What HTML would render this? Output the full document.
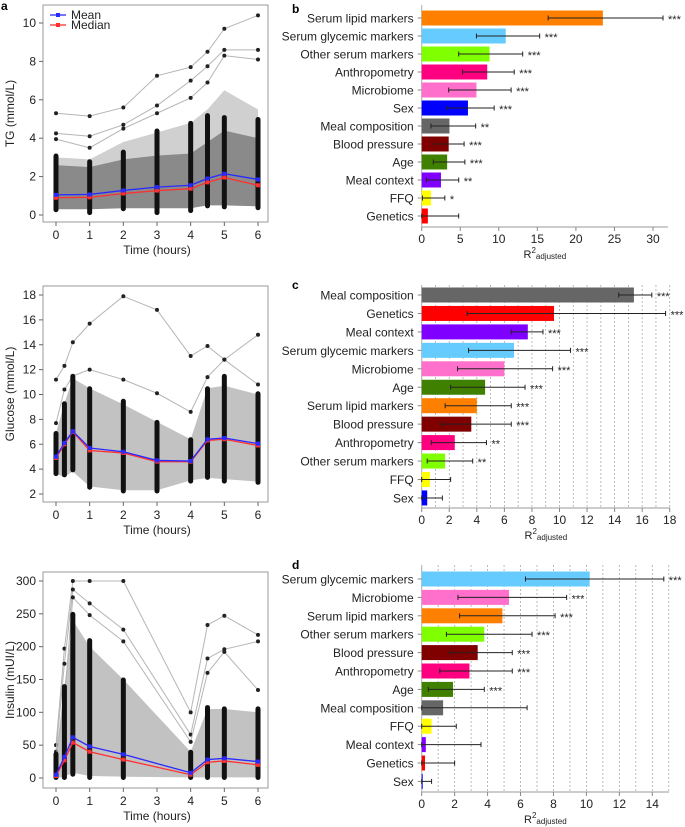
<!DOCTYPE html>
<html><head><meta charset="utf-8">
<style>
html,body{margin:0;padding:0;background:#fff;}
svg{display:block;font-family:"Liberation Sans",Arial,sans-serif;}
</style></head>
<body>
<svg id="fig" width="685" height="827" viewBox="0 0 685 827" xmlns="http://www.w3.org/2000/svg"></svg>
<script>
// ---------- Panel a data (TG) ----------
const tgTimes = [0,1,2,3,4,4.5,5,6];
const tgMean = [1.05,1.07,1.28,1.45,1.55,1.9,2.15,1.85];
const tgMedian = [0.9,0.92,1.12,1.27,1.37,1.7,1.95,1.55];
const tgBandLo = [0.3,0.3,0.35,0.35,0.35,0.5,0.5,0.45];
const tgBandHi = [2.6,2.5,2.9,3.1,3.2,3.8,4.4,4.0];
const tgLightHi = [3.0,2.9,3.8,4.3,4.8,5.5,6.5,5.5];
const tgDotLo = [0.25,0.1,0.3,0.1,0.2,0.45,0.4,0.35];
const tgDotHi = [3.1,2.8,3.3,4.4,4.8,5.2,5.1,5.0];
const tgOutA = [5.3,5.15,5.6,7.25,7.7,8.5,9.7,10.4];
const tgOutB = [4.25,4.1,4.7,5.7,7.0,7.75,8.6,8.6];
const tgOutC = [3.95,3.5,4.5,5.3,6.1,6.9,8.3,8.1];
// ---------- Glucose data ----------
const gluTimes = [0,0.25,0.5,1,2,3,4,4.5,5,6];
const gluMean = [5.0,6.1,7.05,5.7,5.4,4.7,4.65,6.4,6.5,6.05];
const gluMedian = [4.9,6.0,7.0,5.5,5.3,4.6,4.6,6.3,6.4,5.9];
const gluBandLo = [3.6,3.4,3.8,2.6,2.3,2.3,3.1,3.3,3.2,3.0];
const gluBandHi = [6.9,9.3,11.3,10.5,9.2,7.8,6.4,10.5,10.7,10.0];
const gluDotLo = [3.6,3.5,3.9,2.5,2.2,2.2,3.0,3.3,3.0,2.9];
const gluDotHi = [6.9,9.3,11.5,10.5,9.5,7.8,6.4,10.5,11.5,10.1];
const gluOutA = [11.2,12.3,14.2,15.7,17.9,16.8,13.1,13.9,12.8,14.8];
const gluOutB = [7.7,10.4,11.5,12.0,11.2,10.1,8.6,11.4,12.8,10.8];
// ---------- Insulin data ----------
const insTimes = [0,0.25,0.5,1,2,4,4.5,5,6];
const insMean = [5,32,62,48,36,8,28,30,25];
const insMedian = [3,27,54,40,28,5,24,26,20];
const insBandLo = [0,2,8,3,2,1,1,1,1];
const insBandHi = [37,140,240,200,150,40,105,105,100];
const insDotLo = [0,0,5,0,0,0,0,0,0];
const insDotHi = [37,140,250,210,150,40,108,106,106];
const insOutA = [50,197,300,300,300,100,233,247,218];
const insOutB = [40,174,287,266,226,66,182,196,208];
const insOutC = [30,120,275,248,208,55,160,192,134];
// ---------- Bar panels ----------
const colorMap = {"Serum lipid markers":"#ff8000","Serum glycemic markers":"#66ccff","Other serum markers":"#80ff00","Anthropometry":"#ff0080","Microbiome":"#ff70cc","Sex":"#0000ff","Meal composition":"#666666","Blood pressure":"#800000","Age":"#408000","Meal context":"#8000ff","FFQ":"#ffff00","Genetics":"#ff0000"};
const bCats = ["Serum lipid markers","Serum glycemic markers","Other serum markers","Anthropometry","Microbiome","Sex","Meal composition","Blood pressure","Age","Meal context","FFQ","Genetics"];
const bVals = [23.5,10.9,8.8,8.5,7.1,6.0,3.6,3.5,3.3,2.5,1.2,0.8];
const bLo = [16.4,7.1,4.8,5.3,3.5,3.2,1.2,1.8,1.5,0.6,0.1,0];
const bHi = [31.3,15.3,13.1,12.0,11.6,9.4,7.0,5.5,5.6,4.8,3.0,4.8];
const bStars = ["***","***","***","***","***","***","**","***","***","**","*",""];
const bTicks = [0,5,10,15,20,25,30];
const cCats = ["Meal composition","Genetics","Meal context","Serum glycemic markers","Microbiome","Age","Serum lipid markers","Blood pressure","Anthropometry","Other serum markers","FFQ","Sex"];
const cVals = [15.4,9.6,7.7,6.7,6.0,4.6,4.0,3.6,2.4,1.7,0.6,0.4];
const cLo = [14.3,3.3,6.5,3.4,2.6,2.1,1.7,1.4,0.7,0.4,0,0];
const cHi = [16.7,17.7,8.8,10.8,9.5,7.5,6.5,6.5,4.7,3.7,2.1,1.5];
const cStars = ["***","***","***","***","***","***","***","***","**","**","",""];
const cTicks = [0,2,4,6,8,10,12,14,16,18];
const dCats = ["Serum glycemic markers","Microbiome","Serum lipid markers","Other serum markers","Blood pressure","Anthropometry","Age","Meal composition","FFQ","Meal context","Genetics","Sex"];
const dVals = [10.2,5.3,4.9,3.8,3.4,2.9,1.9,1.3,0.6,0.25,0.2,0.05];
const dLo = [6.3,2.2,2.3,1.5,1.7,1.1,0.4,0,0,0,0,0];
const dHi = [14.7,8.8,8.1,6.7,5.5,5.5,3.8,6.4,2.1,3.6,2.0,0.6];
const dStars = ["***","***","***","***","***","***","***","","","","",""];
const dTicks = [0,2,4,6,8,10,12,14];

const NS = "http://www.w3.org/2000/svg";
const svg = document.getElementById('fig');
function mk(tag, attrs, parent){
  const e = document.createElementNS(NS, tag);
  for (const k in attrs) e.setAttribute(k, attrs[k]);
  (parent||svg).appendChild(e);
  return e;
}
function txt(s, x, y, size, anchor, parent, extra){
  const t = mk('text', Object.assign({x:x, y:y, 'font-size':size, 'text-anchor':anchor||'start', fill:'#222'}, extra||{}), parent);
  t.textContent = s;
  return t;
}

// ---------- Line panels ----------
function linePanel(cfg){
  const g = mk('g', {});
  
  
  const X = t => cfg.x0 + (cfg.x6 - cfg.x0) * t / 6;
  const Y = v => cfg.yA + (cfg.yB - cfg.yA) * (v - cfg.vA) / (cfg.vB - cfg.vA);
  const T = cfg.times;
  if (cfg.lightHi){
    let p = T.map((t,i)=>X(t)+','+Y(cfg.lightHi[i])).join(' ') + ' ' + T.slice().reverse().map((t,j)=>{const i=T.length-1-j;return X(t)+','+Y(cfg.bandHi[i]);}).join(' ');
    const lb = mk('polygon', {points:p, fill:'#d0d0d0'}, g);
    
    
  }
  let pts = T.map((t,i)=>X(t)+','+Y(cfg.bandHi[i])).join(' ') + ' ' + T.slice().reverse().map((t,j)=>{const i=T.length-1-j;return X(t)+','+Y(cfg.bandLo[i]);}).join(' ');
  const band = mk('polygon', {points:pts, fill:cfg.bandColor}, g);
  
  
  cfg.outliers.forEach((arr, k) => {
    const pl = mk('polyline', {points:T.map((t,i)=>X(t)+','+Y(arr[i])).join(' '), fill:'none', stroke:'#b5b5b5', 'stroke-width':1}, g);
    
    
    T.forEach((t,i)=>{
      const c = mk('circle', {cx:X(t), cy:Y(arr[i]), r:2, fill:'#222'}, g);
      
      
    });
  });
  T.forEach((t,i)=>{
    const y1 = Y(cfg.dotHi[i]), y2 = Y(cfg.dotLo[i]);
    const r = mk('rect', {x:X(t)-2.5, y:y1-2, width:5, height:(y2-y1)+4, rx:2.5, fill:'#111'}, g);
    
    
  });
  [[cfg.median,'#ff3030','median-line'],[cfg.mean,'#2a2aff','mean-line']].forEach(([arr,col,nm])=>{
    const pl = mk('polyline', {points:T.map((t,i)=>X(t)+','+Y(arr[i])).join(' '), fill:'none', stroke:col, 'stroke-width':1.3}, g);
    
    
    T.forEach((t,i)=>{
      const s = mk('rect', {x:X(t)-2, y:Y(arr[i])-2, width:4, height:4, fill:col}, g);
      
      
    });
  });
  const fr = mk('rect', {x:cfg.bx0, y:cfg.by0, width:cfg.bx1-cfg.bx0, height:cfg.by1-cfg.by0, fill:'none', stroke:'#999', 'stroke-width':1}, g);
  
  
  for (let h=0; h<=6; h++){
    mk('line', {x1:X(h), x2:X(h), y1:cfg.by1, y2:cfg.by1+4, stroke:'#666'}, g);
    const tl = txt(String(h), X(h), cfg.by1+17, 12, 'middle', g);
    
    
  }
  const xt = txt('Time (hours)', (cfg.x0+cfg.x6)/2, cfg.by1+32, 12, 'middle', g);
  
  
  cfg.yTicks.forEach(v=>{
    mk('line', {x1:cfg.bx0-4, x2:cfg.bx0, y1:Y(v), y2:Y(v), stroke:'#666'}, g);
    const tl = txt(String(v), cfg.bx0-7, Y(v)+4, 12, 'end', g);
    
    
  });
  const cy = (cfg.by0+cfg.by1)/2;
  const yt = txt(cfg.ylabel, 14, cy, 12, 'middle', g, {transform:'rotate(-90 14 '+cy+')'});
  
  
  return g;
}

linePanel({name:'tg-panel', times:tgTimes, mean:tgMean, median:tgMedian, bandLo:tgBandLo, bandHi:tgBandHi, lightHi:tgLightHi, bandColor:'#8a8a8a',
  dotLo:tgDotLo, dotHi:tgDotHi, outliers:[tgOutA,tgOutB,tgOutC], x0:56, x6:258, yA:215, yB:23, vA:0, vB:10,
  bx0:43, bx1:268, by0:5, by1:222, yTicks:[0,2,4,6,8,10], ylabel:'TG (mmol/L)'});
linePanel({name:'glucose-panel', times:gluTimes, mean:gluMean, median:gluMedian, bandLo:gluBandLo, bandHi:gluBandHi, bandColor:'#c2c2c2',
  dotLo:gluDotLo, dotHi:gluDotHi, outliers:[gluOutA,gluOutB], x0:56, x6:258, yA:494, yB:295, vA:2, vB:18,
  bx0:43, bx1:268, by0:286, by1:502, yTicks:[2,4,6,8,10,12,14,16,18], ylabel:'Glucose (mmol/L)'});
linePanel({name:'insulin-panel', times:insTimes, mean:insMean, median:insMedian, bandLo:insBandLo, bandHi:insBandHi, bandColor:'#c2c2c2',
  dotLo:insDotLo, dotHi:insDotHi, outliers:[insOutA,insOutB,insOutC], x0:56, x6:258, yA:778, yB:581, vA:0, vB:300,
  bx0:43, bx1:268, by0:572, by1:788, yTicks:[0,50,100,150,200,250,300], ylabel:'Insulin (mUI/L)'});

const lg = mk('g', {});


[['Mean','#2a2aff',15],['Median','#ff3030',25]].forEach(([lab,col,y])=>{
  mk('line', {x1:50, x2:66, y1:y, y2:y, stroke:col, 'stroke-width':1.3}, lg);
  mk('rect', {x:56, y:y-2, width:4, height:4, fill:col}, lg);
  const t = txt(lab, 71, y+4, 12, 'start', lg);
  
  
});

function barPanel(cfg){
  const g = mk('g', {});
  
  
  const X = v => cfg.x0 + v * cfg.scale;
  const Yc = i => cfg.yFirst + i * cfg.step;
  if (cfg.grid){
    for (let v=1; v<=cfg.gridMax; v++){
      const gl = mk('line', {x1:X(v), x2:X(v), y1:cfg.top, y2:cfg.axisY, stroke:'#aaa', 'stroke-width':0.8, 'stroke-dasharray':'2,2'}, g);
      
      
    }
  }
  mk('line', {x1:cfg.x0, x2:cfg.x0, y1:cfg.top, y2:cfg.axisY, stroke:'#aaa', 'stroke-width':1}, g);
  mk('line', {x1:cfg.x0, x2:cfg.axisEnd, y1:cfg.axisY, y2:cfg.axisY, stroke:'#999', 'stroke-width':1}, g);
  cfg.cats.forEach((c,i)=>{
    const y = Yc(i);
    mk('line', {x1:cfg.x0-4, x2:cfg.x0, y1:y, y2:y, stroke:'#888'}, g);
    const lab = txt(c, cfg.x0-8, y+4.5, 12, 'end', g);
    
    
    const b = mk('rect', {x:cfg.x0, y:y-7.5, width:Math.max(cfg.vals[i]*cfg.scale,1), height:15, fill:colorMap[c]}, g);
    
    
    const lo = X(cfg.lo[i]), hi = X(cfg.hi[i]);
    const e = mk('path', {d:'M'+lo+' '+y+'H'+hi+'M'+lo+' '+(y-2.5)+'V'+(y+2.5)+'M'+hi+' '+(y-2.5)+'V'+(y+2.5), stroke:'#222', 'stroke-width':1, fill:'none'}, g);
    
    
    if (cfg.stars[i]){
      const s = txt(cfg.stars[i], hi+5, y+5, 11, 'start', g);
      
      
    }
  });
  cfg.ticks.forEach(v=>{
    mk('line', {x1:X(v), x2:X(v), y1:cfg.axisY, y2:cfg.axisY+4, stroke:'#888'}, g);
    const t = txt(String(v), X(v), cfg.axisY+16, 12, 'middle', g);
    
    
  });
  const xc = (cfg.x0+cfg.axisEnd)/2;
  const tt = mk('text', {x:xc, y:cfg.axisY+31, 'font-size':11, 'text-anchor':'middle', fill:'#222'}, g);
  
  
  tt.innerHTML = 'R<tspan dy="-5" font-size="8">2</tspan><tspan dy="6" font-size="8">adjusted</tspan>';
}
barPanel({name:'panel-b', cats:bCats, vals:bVals, lo:bLo, hi:bHi, stars:bStars, ticks:bTicks, x0:421.7, scale:7.71, yFirst:18, step:18,
  top:5, axisY:227, axisEnd:668, grid:false});
barPanel({name:'panel-c', cats:cCats, vals:cVals, lo:cLo, hi:cHi, stars:cStars, ticks:cTicks, x0:421.7, scale:13.78, yFirst:295, step:18.45,
  top:285, axisY:508, axisEnd:670, grid:true, gridMax:18});
barPanel({name:'panel-d', cats:dCats, vals:dVals, lo:dLo, hi:dHi, stars:dStars, ticks:dTicks, x0:421.7, scale:16.47, yFirst:579, step:18.4,
  top:565, axisY:792, axisEnd:669, grid:true, gridMax:15});

[['a',1,10],['b',292,13],['c',292,289],['d',292,569]].forEach(([l,x,y])=>{
  const t = txt(l, x, y, 12, 'start', null, {'font-weight':'bold', fill:'#000'});
  
  
});
</script>
</body></html>
